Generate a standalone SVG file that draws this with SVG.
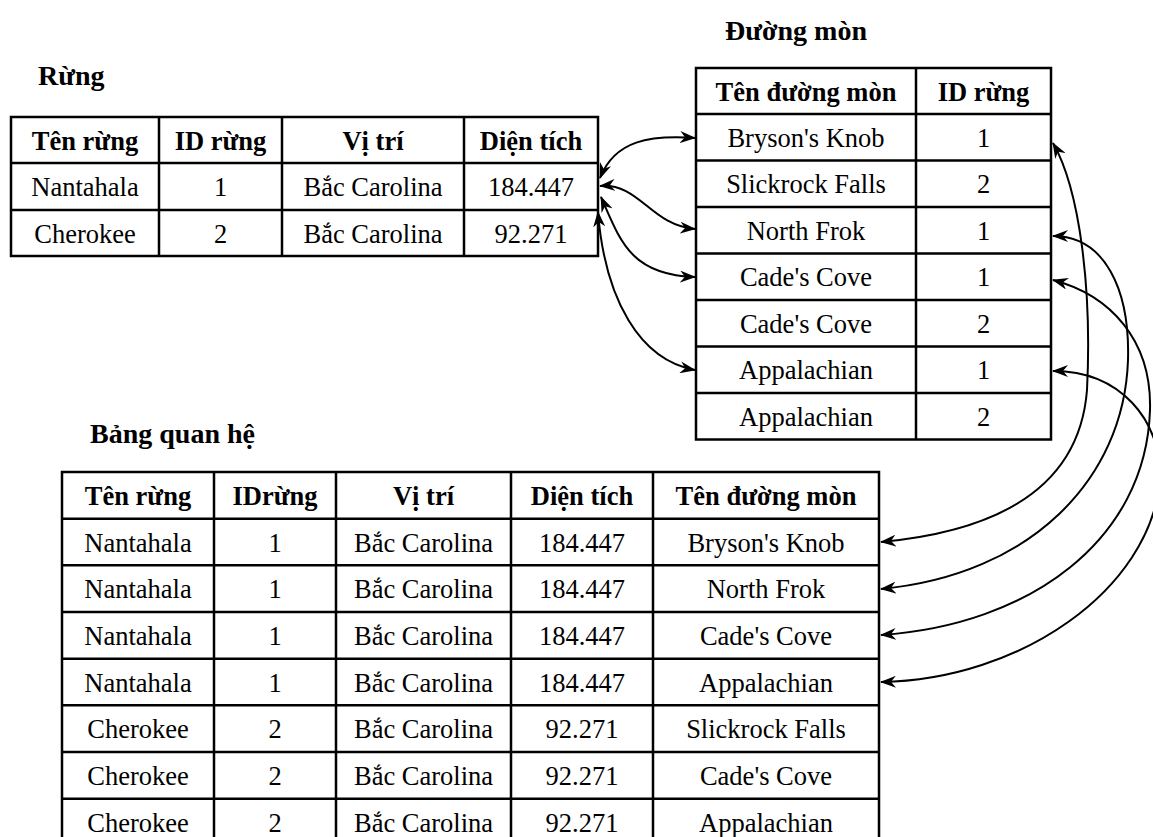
<svg xmlns="http://www.w3.org/2000/svg" width="1153" height="837" viewBox="0 0 1153 837">
<style>
text{font-family:"Liberation Serif","Times New Roman",serif;fill:#000}
.t{font-size:28px;font-weight:bold}
.h{font-size:26.5px;font-weight:bold;text-anchor:middle}
.c{font-size:26.5px;text-anchor:middle}
.g line,.g rect{stroke:#000;stroke-width:2.5;fill:none}
.con path{fill:none;stroke:#000;stroke-width:2;marker-start:url(#arr);marker-end:url(#arr)}
</style>
<defs>
<marker id="arr" viewBox="0 0 16 12" refX="15" refY="6" markerWidth="16" markerHeight="12" markerUnits="userSpaceOnUse" orient="auto-start-reverse"><path d="M0,0 L16,6 L0,12 L5,6 Z" fill="#000"/></marker>
</defs>
<rect width="1153" height="837" fill="#fff"/>

<g id="rung">
<text class="t" x="38" y="85">Rừng</text>
<g class="g">
<rect x="11" y="117" width="587" height="139"/>
<line x1="11" y1="163" x2="598" y2="163"/>
<line x1="11" y1="210" x2="598" y2="210"/>
<line x1="159" y1="117" x2="159" y2="256"/>
<line x1="282" y1="117" x2="282" y2="256"/>
<line x1="464" y1="117" x2="464" y2="256"/>
</g>
<text class="h" x="85" y="149.5">Tên rừng</text>
<text class="h" x="220.5" y="149.5">ID rừng</text>
<text class="h" x="373" y="149.5">Vị trí</text>
<text class="h" x="531" y="149.5">Diện tích</text>
<text class="c" x="85" y="196">Nantahala</text>
<text class="c" x="220.5" y="196">1</text>
<text class="c" x="373" y="196">Bắc Carolina</text>
<text class="c" x="531" y="196">184.447</text>
<text class="c" x="85" y="242.5">Cherokee</text>
<text class="c" x="220.5" y="242.5">2</text>
<text class="c" x="373" y="242.5">Bắc Carolina</text>
<text class="c" x="531" y="242.5">92.271</text>
</g>

<g id="duongmon">
<text class="t" x="725" y="40">Đường mòn</text>
<g class="g">
<rect x="696" y="68" width="355" height="371.5"/>
<line x1="696" y1="114" x2="1051" y2="114"/>
<line x1="696" y1="160.5" x2="1051" y2="160.5"/>
<line x1="696" y1="207" x2="1051" y2="207"/>
<line x1="696" y1="253.5" x2="1051" y2="253.5"/>
<line x1="696" y1="300" x2="1051" y2="300"/>
<line x1="696" y1="346.5" x2="1051" y2="346.5"/>
<line x1="696" y1="393" x2="1051" y2="393"/>
<line x1="916" y1="68" x2="916" y2="439.5"/>
</g>
<text class="h" x="806" y="100.5">Tên đường mòn</text>
<text class="h" x="983.5" y="100.5">ID rừng</text>
<text class="c" x="806" y="146.8">Bryson's Knob</text><text class="c" x="983.5" y="146.8">1</text>
<text class="c" x="806" y="193.3">Slickrock Falls</text><text class="c" x="983.5" y="193.3">2</text>
<text class="c" x="806" y="239.8">North Frok</text><text class="c" x="983.5" y="239.8">1</text>
<text class="c" x="806" y="286.3">Cade's Cove</text><text class="c" x="983.5" y="286.3">1</text>
<text class="c" x="806" y="332.8">Cade's Cove</text><text class="c" x="983.5" y="332.8">2</text>
<text class="c" x="806" y="379.3">Appalachian</text><text class="c" x="983.5" y="379.3">1</text>
<text class="c" x="806" y="425.8">Appalachian</text><text class="c" x="983.5" y="425.8">2</text>
</g>

<g id="bangquanhe">
<text class="t" x="90" y="443">Bảng quan hệ</text>
<g class="g">
<rect x="62" y="472" width="817" height="373.3"/>
<line x1="62" y1="518.7" x2="879" y2="518.7"/>
<line x1="62" y1="565.3" x2="879" y2="565.3"/>
<line x1="62" y1="612" x2="879" y2="612"/>
<line x1="62" y1="658.7" x2="879" y2="658.7"/>
<line x1="62" y1="705.3" x2="879" y2="705.3"/>
<line x1="62" y1="752" x2="879" y2="752"/>
<line x1="62" y1="798.7" x2="879" y2="798.7"/>
<line x1="214" y1="472" x2="214" y2="845"/>
<line x1="336" y1="472" x2="336" y2="845"/>
<line x1="511" y1="472" x2="511" y2="845"/>
<line x1="653" y1="472" x2="653" y2="845"/>
</g>
<text class="h" x="138" y="504.8">Tên rừng</text>
<text class="h" x="275" y="504.8">IDrừng</text>
<text class="h" x="423.5" y="504.8">Vị trí</text>
<text class="h" x="582" y="504.8">Diện tích</text>
<text class="h" x="766" y="504.8">Tên đường mòn</text>

<text class="c" x="138" y="551.5">Nantahala</text><text class="c" x="275" y="551.5">1</text><text class="c" x="423.5" y="551.5">Bắc Carolina</text><text class="c" x="582" y="551.5">184.447</text><text class="c" x="766" y="551.5">Bryson's Knob</text>
<text class="c" x="138" y="598.2">Nantahala</text><text class="c" x="275" y="598.2">1</text><text class="c" x="423.5" y="598.2">Bắc Carolina</text><text class="c" x="582" y="598.2">184.447</text><text class="c" x="766" y="598.2">North Frok</text>
<text class="c" x="138" y="644.8">Nantahala</text><text class="c" x="275" y="644.8">1</text><text class="c" x="423.5" y="644.8">Bắc Carolina</text><text class="c" x="582" y="644.8">184.447</text><text class="c" x="766" y="644.8">Cade's Cove</text>
<text class="c" x="138" y="691.5">Nantahala</text><text class="c" x="275" y="691.5">1</text><text class="c" x="423.5" y="691.5">Bắc Carolina</text><text class="c" x="582" y="691.5">184.447</text><text class="c" x="766" y="691.5">Appalachian</text>
<text class="c" x="138" y="738.2">Cherokee</text><text class="c" x="275" y="738.2">2</text><text class="c" x="423.5" y="738.2">Bắc Carolina</text><text class="c" x="582" y="738.2">92.271</text><text class="c" x="766" y="738.2">Slickrock Falls</text>
<text class="c" x="138" y="784.8">Cherokee</text><text class="c" x="275" y="784.8">2</text><text class="c" x="423.5" y="784.8">Bắc Carolina</text><text class="c" x="582" y="784.8">92.271</text><text class="c" x="766" y="784.8">Cade's Cove</text>
<text class="c" x="138" y="831.5">Cherokee</text><text class="c" x="275" y="831.5">2</text><text class="c" x="423.5" y="831.5">Bắc Carolina</text><text class="c" x="582" y="831.5">92.271</text><text class="c" x="766" y="831.5">Appalachian</text>
</g>

<g id="connectors" class="con">
<path d="M600,178 C615,140 650,135 695,138"/>
<path d="M600,186 C640,183 650,225 695,229"/>
<path d="M601,197 C620,240 630,275 695,277"/>
<path d="M598,212 C605,300 640,360 695,370"/>
<path d="M1053,143 C1080,190 1092,290 1087,390 C1080,480 1010,530 881,542"/>
<path d="M1053,236 C1105,236 1130,290 1128,360 C1124,480 1030,575 881,589"/>
<path d="M1053,280 C1110,295 1152,340 1150,410 C1146,540 1030,625 881,635"/>
<path d="M1053,371 C1120,371 1162,420 1160,480 C1150,590 1020,680 881,682"/>
</g>
</svg>
